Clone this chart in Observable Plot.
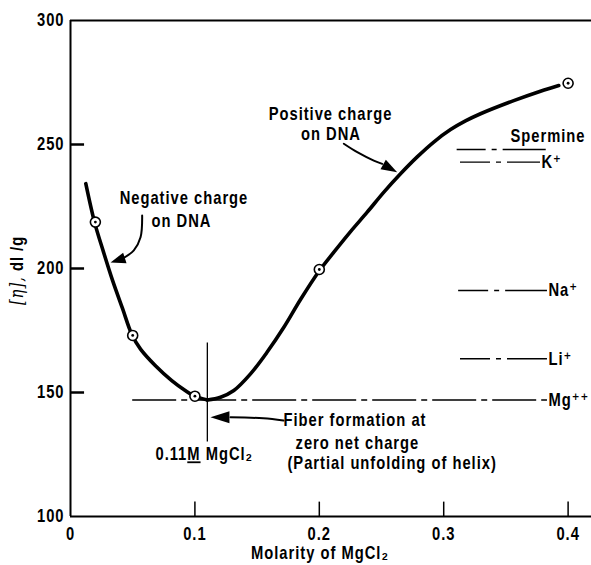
<!DOCTYPE html>
<html><head><meta charset="utf-8">
<script src="https://cdn.jsdelivr.net/npm/d3@7"></script>
<script src="https://cdn.jsdelivr.net/npm/@observablehq/plot@0.6"></script>
<style>
body{margin:0;background:#fff}
svg{display:block}
</style>
</head><body><div id="chart"></div>
<script>
// ---- axes ----
const xDomain = [0, 0.4188];
const yDomain = [100, 300];
const xTicks = [0, 0.1, 0.2, 0.3, 0.4];
const yTicks = [100, 150, 200, 250, 300];

// ---- intrinsic viscosity curve (two branches meeting at 0.11 M) ----
const negativeBranchX = [0.0123, 0.0193, 0.0265, 0.0338, 0.0418, 0.0493, 0.0563, 0.0681, 0.0814, 0.0922, 0.0997, 0.11];
const negativeBranchY = [234.2, 218.7, 206.7, 195.2, 183.9, 173.4, 167.5, 160.9, 154.8, 150.8, 148.5, 147.0];
const positiveBranchX = [0.11, 0.1206, 0.1313, 0.1447, 0.1581, 0.1715, 0.1849, 0.1996, 0.2117, 0.2251, 0.2385, 0.2519, 0.2653, 0.2787, 0.292, 0.3055, 0.3175, 0.3296, 0.3563, 0.3778, 0.3925];
const positiveBranchY = [147.0, 148.1, 150.8, 157.5, 166.3, 176.3, 187.5, 198.8, 206.6, 214.9, 222.7, 230.8, 238.2, 245.0, 251.0, 256.0, 259.5, 262.4, 267.7, 271.5, 273.8];

// ---- measured points ----
const measuredX = [0.02, 0.05, 0.1, 0.2, 0.4];
const measuredY = [218.7, 173.0, 148.5, 199.6, 274.7];

// ---- reference levels for other cations ----
const ionLabels = ["K⁺", "Na⁺", "Li⁺", "Mg⁺⁺"];
const ionY = [242.9, 191.1, 163.6, 147];
const ionX1 = [0.3135, 0.312, 0.3135, 0.05];
const ionX2 = [0.3778, 0.3834, 0.3834, 0.3834];
const spermineLine = {x1: 0.3108, x2: 0.3824, y: 248};
const spermineLabel = {text: "Spermine", x: 0.414, y: 253.4};

// ---- zero net charge marker ----
const zeroChargeX = 0.11;
const zeroChargeY = [130, 170];

// ---- annotations ----
const centeredNotes = ["Negative charge", "on DNA", "Positive charge", "on DNA"];
const centeredNotesX = [0.0912, 0.0892, 0.209, 0.2094];
const centeredNotesY = [228.2, 219.0, 262.3, 254.0];
const leftNotes = ["Fiber formation at", "zero net charge", "(Partial unfolding of helix)", "0.11M MgCl₂"];
const leftNotesX = [0.1712, 0.1809, 0.1744, 0.0683];
const leftNotesY = [138.7, 129.6, 121.6, 125.0];

// ---- arrows (shaft points + tip) ----
const negArrowX = [0.0576, 0.0563, 0.0509, 0.0428];
const negArrowY = [221.4, 212.6, 207.3, 204.3];
const negArrowTip = [0.0322, 202.4];
const posArrowX = [0.2197, 0.2305, 0.2438, 0.2506];
const posArrowY = [250.3, 246.9, 243.5, 242.2];
const posArrowTip = [0.2626, 238.8];
const fiberArrowX = [0.1712, 0.155, 0.1286];
const fiberArrowY = [138.7, 139.6, 140.0];
const fiberArrowTip = [0.1125, 140.0];

const yLabel = "[η], dl /g";
const xLabel = "Molarity of MgCl₂";

// helpers
const zip = (xs, ys) => xs.map((x, i) => ({x, y: ys[i]}));
function arrowHead(len, half) {
  return {draw(ctx) { ctx.moveTo(0, 0); ctx.lineTo(half, len); ctx.lineTo(-half, len); ctx.closePath(); }};
}
const FONT = "'Liberation Sans', Arial, 'DejaVu Sans', sans-serif";

const ions = ionLabels.map((t, i) => ({t, y: ionY[i], x1: ionX1[i], x2: ionX2[i]}));
const measured = zip(measuredX, measuredY);

const chart = Plot.plot({
  width: 591,
  height: 565,
  marginLeft: 70,
  marginRight: 0,
  marginTop: 20,
  marginBottom: 49,
  style: {fontFamily: FONT, fontSize: "18px", fontWeight: "bold", color: "black", background: "white"},
  x: {domain: xDomain},
  y: {domain: yDomain},
  marks: [
    // frame
    Plot.ruleY(yDomain, {stroke: "black", strokeWidth: 2}),
    Plot.ruleX([xDomain[0]], {stroke: "black", strokeWidth: 2}),
    // inward ticks
    Plot.ruleY(yTicks.filter(d => d > yDomain[0] && d < yDomain[1]), {x1: 0, x2: 0.0113, stroke: "black", strokeWidth: 2.5}),
    Plot.ruleX(xTicks.filter(d => d > 0), {y1: 100, y2: 105.8, stroke: "black", strokeWidth: 1.5}),
    Plot.axisX({ticks: xTicks, tickSize: 0, tickPadding: 11, tickFormat: d => String(d), label: null, fontSize: 18, fontWeight: "bold"}),
    Plot.axisY({ticks: yTicks, tickSize: 0, tickPadding: 6, label: null, fontSize: 18, fontWeight: "bold"}),
    // reference levels
    Plot.ruleY(ions.filter(d => d.t !== "Mg⁺⁺"), {y: "y", x1: "x1", x2: "x2", stroke: "black", strokeWidth: 1.4, strokeDasharray: "30,6,5,6,300"}),
    Plot.ruleY([spermineLine], {y: "y", x1: "x1", x2: "x2", stroke: "black", strokeWidth: 1.4, strokeDasharray: "29,6,5,6,300"}),
    Plot.ruleY(ions.filter(d => d.t === "Mg⁺⁺"), {y: "y", x1: "x1", x2: "x2", stroke: "black", strokeWidth: 1.6, strokeDasharray: "44,5,6,5"}),
    Plot.text(ions, {x: "x2", y: "y", text: "t", textAnchor: "start", dx: 1, fontSize: 18, fontWeight: "bold"}),
    Plot.text([spermineLabel], {x: "x", y: "y", text: "text", textAnchor: "end", fontSize: 18, fontWeight: "bold"}),
    // zero net charge vertical line
    Plot.ruleX([zeroChargeX], {y1: zeroChargeY[0], y2: zeroChargeY[1], stroke: "black", strokeWidth: 1.3}),
    // curve
    Plot.line(zip(negativeBranchX, negativeBranchY), {x: "x", y: "y", curve: "catmull-rom", stroke: "black", strokeWidth: 3.6}),
    Plot.line(zip(positiveBranchX, positiveBranchY), {x: "x", y: "y", curve: "catmull-rom", stroke: "black", strokeWidth: 3.6}),
    // measured points
    Plot.dot(measured, {x: "x", y: "y", r: 5, fill: "white", stroke: "black", strokeWidth: 1.6}),
    Plot.dot(measured, {x: "x", y: "y", r: 1.4, fill: "black"}),
    // arrows
    Plot.line(zip(negArrowX, negArrowY), {x: "x", y: "y", curve: "catmull-rom", stroke: "black", strokeWidth: 2}),
    Plot.dot([{x: negArrowTip[0], y: negArrowTip[1]}], {x: "x", y: "y", symbol: arrowHead(15, 5.5), rotate: 252, fill: "black", r: 5}),
    Plot.line(zip(posArrowX, posArrowY), {x: "x", y: "y", curve: "catmull-rom", stroke: "black", strokeWidth: 2}),
    Plot.dot([{x: posArrowTip[0], y: posArrowTip[1]}], {x: "x", y: "y", symbol: arrowHead(16, 5.5), rotate: 119, fill: "black", r: 5}),
    Plot.line(zip(fiberArrowX, fiberArrowY), {x: "x", y: "y", curve: "catmull-rom", stroke: "black", strokeWidth: 2}),
    Plot.dot([{x: fiberArrowTip[0], y: fiberArrowTip[1]}], {x: "x", y: "y", symbol: arrowHead(19, 6), rotate: 270, fill: "black", r: 5}),
    // annotations
    Plot.text(centeredNotes, {x: (d, i) => centeredNotesX[i], y: (d, i) => centeredNotesY[i], text: d => d, textAnchor: "middle", fontSize: 18, fontWeight: "bold"}),
    Plot.text(leftNotes, {x: (d, i) => leftNotesX[i], y: (d, i) => leftNotesY[i], text: d => d, textAnchor: "start", fontSize: 18, fontWeight: "bold"}),
    // axis labels
    Plot.text([yLabel], {frameAnchor: "left", dx: -53, dy: 2, rotate: -90, lineAnchor: "middle", textAnchor: "middle", fontSize: 18, fontWeight: "bold"}),
    Plot.text([xLabel], {frameAnchor: "bottom", dx: -11, dy: 37, lineAnchor: "middle", textAnchor: "middle", fontSize: 18, fontWeight: "bold"})
  ]
});

// condensed lettering like the original: narrow every label around its anchor point
const SQUEEZE = "scale(0.82,1)";
d3.select(chart).selectAll("text").each(function () {
  const el = this;
  el.setAttribute("letter-spacing", "1.2");
  el.setAttribute("font-family", FONT);
  const tr = el.getAttribute("transform");
  if (tr) {
    el.setAttribute("transform", tr + " " + SQUEEZE);
  } else {
    const x = +(el.getAttribute("x") || 0), y = +(el.getAttribute("y") || 0);
    el.removeAttribute("x"); el.removeAttribute("y");
    el.setAttribute("transform", `translate(${x},${y}) ${SQUEEZE}`);
  }
  const t = el.textContent;
  if (t === "0.11M MgCl₂") {
    const s = d3.select(el); s.text("");
    s.append("tspan").text("0.11");
    s.append("tspan").attr("text-decoration", "underline").text("M");
    s.append("tspan").text(" MgCl₂");
  } else if (t === yLabel) {
    const s = d3.select(el); s.text("");
    s.append("tspan").attr("font-family", "'DejaVu Serif', serif").attr("font-weight", "normal").attr("font-style", "italic").text("[η],");
    s.append("tspan").text(" dl /g");
  }
});

document.getElementById("chart").appendChild(chart);
</script>
</body></html>
